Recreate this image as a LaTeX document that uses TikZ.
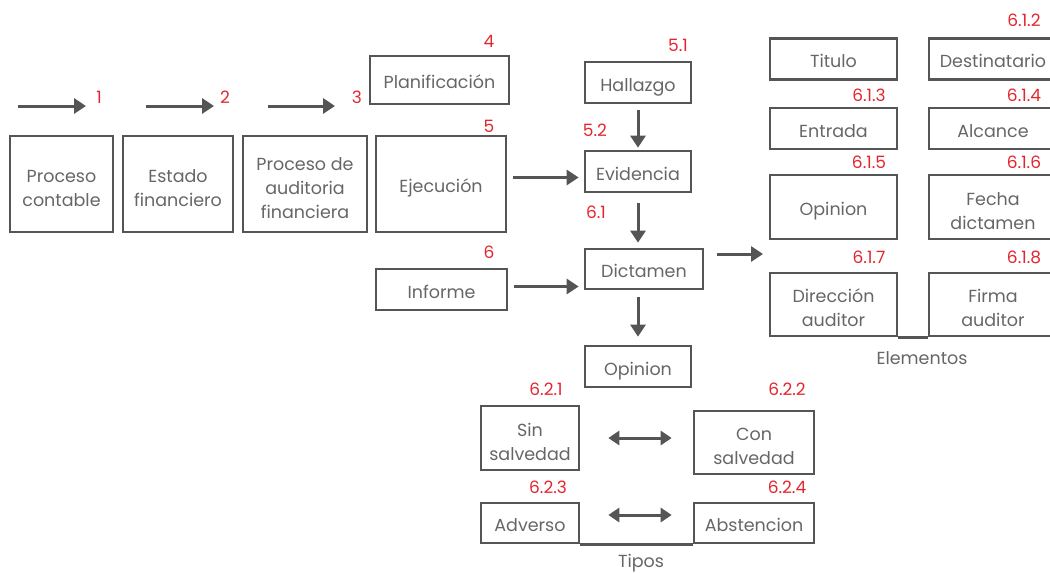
\documentclass[tikz,border=0pt]{standalone}
\usepackage{fontspec}
\setmainfont{Poppins}
\usepackage{tikz}
\usetikzlibrary{arrows.meta,positioning}
\definecolor{linegray}{HTML}{555555}
\definecolor{txtgray}{HTML}{666666}
\definecolor{numred}{HTML}{E3262E}
\newcommand{\alto}{\rule{0pt}{25pt}}

\begin{document}
\begin{tikzpicture}[x=1pt,y=-1pt,
	caja/.style={draw=linegray,line width=2.6pt,text=txtgray,align=center,inner sep=0pt,font=\fontsize{17.5}{24}\selectfont,
		execute at begin node={\rule{0pt}{22pt}},execute at end node={\rule[-5pt]{0pt}{0pt}}},
	num/.style={text=numred,inner sep=0pt,font=\fontsize{17}{19}\selectfont},
	rotulo/.style={text=txtgray,inner sep=0pt,font=\fontsize{17.5}{19}\selectfont},
	flecha/.style={draw=linegray,line width=3pt,-{Triangle[length=12pt,width=15pt]}},
	doble/.style={draw=linegray,line width=3pt,{Triangle[length=11pt,width=14pt]}-{Triangle[length=11pt,width=14pt]}}]
	\useasboundingbox (0,0) rectangle (1050,573);
	% the process chain
	\node[caja,minimum width=103,minimum height=96] (contable) at (61.5,184) {\alto Proceso\\contable};
	\node[caja,minimum width=110,minimum height=96] (estado) at (178,184) {\alto Estado\\financiero};
	\node[caja,minimum width=124,minimum height=96] (auditoria) at (305,184) {\alto Proceso de\\auditoria\\financiera};
	\node[caja,minimum width=130,minimum height=96] (ejec) at (441,184) {Ejecución};
	\node[caja,minimum width=139,minimum height=48] (planif) at (439.5,80) {Planificación};
	\node[caja,minimum width=131,minimum height=41] (informe) at (441.5,289.5) {Informe};
	%% the arrows over the chain
	\coordinate (a1s) at (18,106); \coordinate (a1e) at (86,106);
	\coordinate (a2s) at (146,106); \coordinate (a2e) at (214,106);
	\coordinate (a3s) at (268,106); \coordinate (a3e) at (335,106);
	\draw[flecha] (a1s) -- (a1e);
	\draw[flecha] (a2s) -- (a2e);
	\draw[flecha] (a3s) -- (a3e);
	%% the numbers
	\node[num] (n1) at (99,97) {1};
	\node[num] (n2) at (225,97) {2};
	\node[num] (n3) at (357,97) {3};
	\node[num] (n4) at (489,41) {4};
	\node[num] (n5) at (489,126) {5};
	\node[num] (n6) at (489,252) {6};
	% the middle column
	\node[caja,minimum width=106,minimum height=41] (hallazgo) at (638,82.5) {Hallazgo};
	\node[caja,minimum width=106,minimum height=41] (evid) at (638,171.5) {Evidencia};
	\node[caja,minimum width=118,minimum height=40] (dict) at (644,269) {Dictamen};
	\node[caja,minimum width=106,minimum height=41] (opinion) at (638,366.5) {Opinion};
	\node[num] (n51) at (678,45) {5.1};
	\node[num] (n52) at (595,130) {5.2};
	\node[num] (n61) at (596,212) {6.1};
	\draw[flecha,shorten <=6pt,shorten >=5pt] (ejec.east |- evid) ++(0,6) coordinate (ejo) (ejo) -- (ejo -| evid.west);
	\draw[flecha,shorten <=6pt,shorten >=5pt] (informe.east) ++(0,-3) coordinate (info) (info) -- (info -| dict.west);
	\draw[flecha,shorten <=6pt,shorten >=2pt] (hallazgo) -- (evid);
	\draw[flecha,shorten <=10pt,shorten >=5pt] (evid) -- (evid |- dict.north);
	\draw[flecha,shorten <=7pt,shorten >=8pt] (opinion.north |- dict.south) -- (opinion.north);
	% the elements of the dictamen
	\node[caja,minimum width=127,minimum height=41] (titulo) at (833.5,59) {Titulo};
	\node[caja,minimum width=128,minimum height=41] (destin) at (993,59) {Destinatario};
	\node[caja,minimum width=127,minimum height=41] (entrada) at (833.5,128.5) {Entrada};
	\node[caja,minimum width=128,minimum height=41] (alcance) at (993,128.5) {Alcance};
	\node[caja,minimum width=127,minimum height=64] (opinion2) at (833.5,207) {Opinion};
	\node[caja,minimum width=128,minimum height=64] (fecha) at (993,207) {\alto Fecha\\dictamen};
	\node[caja,minimum width=127,minimum height=63] (direc) at (833.5,304.5) {\alto Dirección\\auditor};
	\node[caja,minimum width=128,minimum height=63] (firma) at (993,304.5) {\alto Firma\\auditor};
	\draw[linegray,line width=2.6pt] (direc.south east) -- (firma.south west);
	\node[rotulo] (elementos) at (922,358) {Elementos};
	\node[num] (n612) at (1024,20) {6.1.2};
	\node[num] (n613) at (869,95) {6.1.3};
	\node[num] (n614) at (1024,95) {6.1.4};
	\node[num] (n615) at (869,162) {6.1.5};
	\node[num] (n616) at (1024,162) {6.1.6};
	\node[num] (n617) at (869,257) {6.1.7};
	\node[num] (n618) at (1024,257) {6.1.8};
	\coordinate (elem) at (766,254);
	\draw[flecha,shorten <=13pt,shorten >=3pt] ([yshift=15pt]dict.east) -- (elem);
	% the types of opinion
	\node[caja,minimum width=98,minimum height=64] (sin) at (530,438) {\alto Sin\\salvedad};
	\node[caja,minimum width=120,minimum height=63] (con) at (754,442.5) {\alto Con\\salvedad};
	\node[caja,minimum width=98,minimum height=40] (adverso) at (530,523) {Adverso};
	\node[caja,minimum width=120,minimum height=40] (abst) at (754,523) {Abstencion};
	\draw[linegray,line width=2.6pt] (adverso.south east) -- (abst.south west);
	\node[rotulo] (tipos) at (641,563) {Tipos};
	\node[num] (n621) at (546,389) {6.2.1};
	\node[num] (n622) at (787,389) {6.2.2};
	\node[num] (n623) at (548,487) {6.2.3};
	\node[num] (n624) at (787,487) {6.2.4};
	\draw[doble,shorten <=28pt,shorten >=21pt] (sin.east) -- (sin.east -| con.west);
	\draw[doble,shorten <=28pt,shorten >=21pt] ([yshift=8pt]adverso.east) -- ([yshift=8pt]adverso.east -| abst.west);
\end{tikzpicture}
\end{document}
